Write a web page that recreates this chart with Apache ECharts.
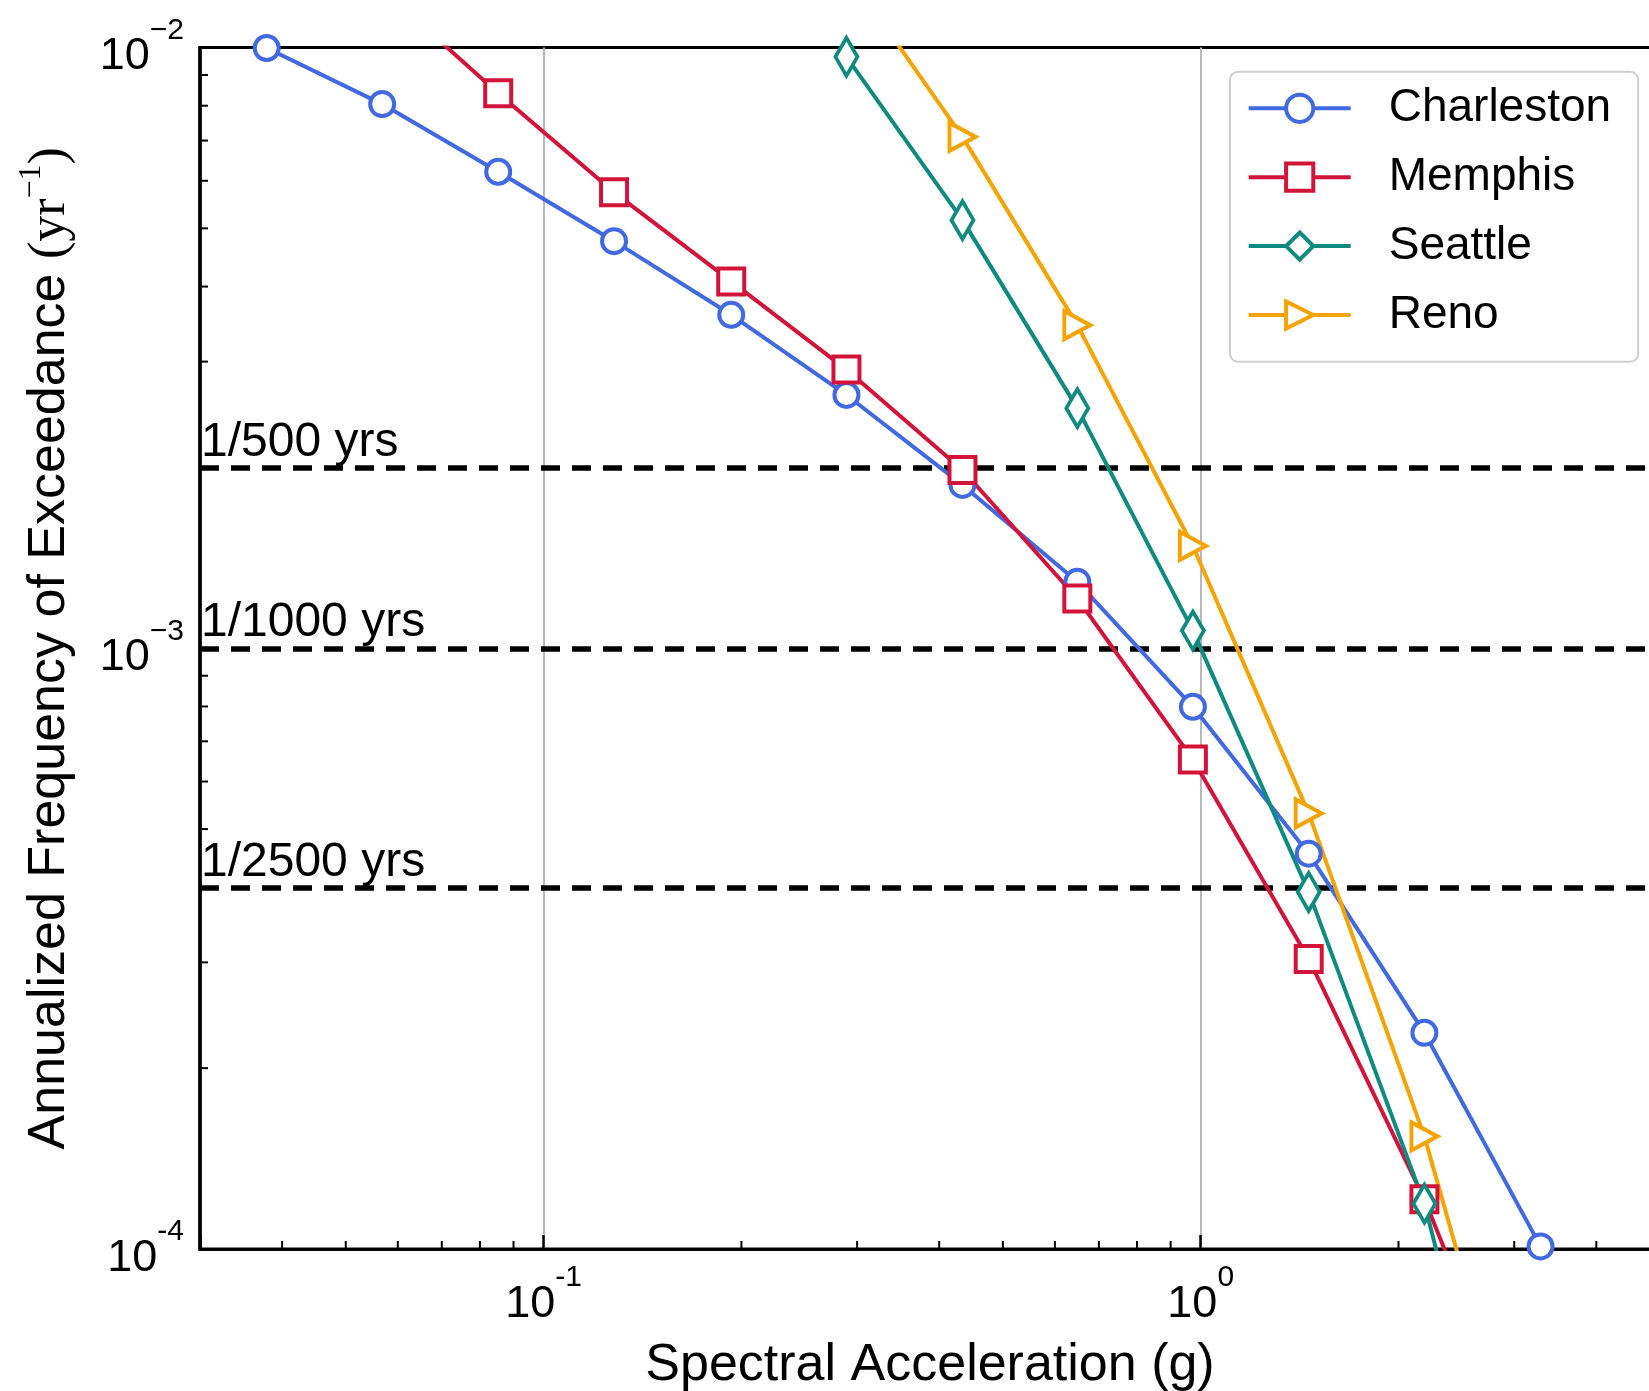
<!DOCTYPE html>
<html>
<head>
<meta charset="utf-8">
<script src="https://cdn.jsdelivr.net/npm/echarts@6/dist/echarts.min.js"></script>
<style>
  html, body { margin: 0; padding: 0; background: #fff; }
  #chart { width: 1649px; height: 1391px; }
</style>
</head>
<body>
<div id="chart"></div>
<script>
// Spectral acceleration levels (g) of the hazard curves
const spectralAccel = [0.0379, 0.0568, 0.0853, 0.128, 0.193, 0.289, 0.434, 0.649, 0.973, 1.46, 2.19, 3.29];

// Annualized frequency of exceedance (1/yr) for each site
const charleston = [0.00998, 0.00805, 0.00621, 0.00476, 0.00359, 0.00264, 0.00187, 0.00129, 0.000799, 0.000455, 0.000229, 0.000101];
const memphis    = [null, 0.0125, 0.00839, 0.00574, 0.00408, 0.00291, 0.00198, 0.00121, 0.000653, 0.000304, 0.000121, 0.000040];
const seattle    = [null, null, null, null, null, 0.00965, 0.00516, 0.00251, 0.00107, 0.000393, 0.000119, 0.000021];
const reno       = [null, null, null, null, null, 0.0134, 0.0071, 0.00345, 0.00148, 0.000531, 0.000154, 0.000032];

const cityNames  = ['Charleston', 'Memphis', 'Seattle', 'Reno'];
const cityValues = [charleston, memphis, seattle, reno];

// Reference return periods (years)
const returnPeriods = [500, 1000, 2500];
const returnLabels  = ['1/500 yrs', '1/1000 yrs', '1/2500 yrs'];

// Axis ranges and tick labels
const xRange = [0.03, 5];
const yRange = [1e-4, 1e-2];
const xTickValues = [0.1, 1];
const xTickSup    = ['-1', '0'];
const yTickValues = [1e-4, 1e-3, 1e-2];
const yTickSup    = ['-4', '\u22123', '\u22122'];
const xMinorTicks = [0.04, 0.05, 0.06, 0.07, 0.08, 0.09, 0.2, 0.3, 0.4, 0.5, 0.6, 0.7, 0.8, 0.9, 2, 3, 4];
const yMinorTicks = [2e-4, 3e-4, 4e-4, 5e-4, 6e-4, 7e-4, 8e-4, 9e-4, 2e-3, 3e-3, 4e-3, 5e-3, 6e-3, 7e-3, 8e-3, 9e-3];

const palette = ['#4169E1', '#D2143A', '#0F8A80', '#F5A300'];
const markers = [
  { symbol: 'circle', symbolSize: 24, symbolRotate: 0 },
  { symbol: 'rect', symbolSize: 26, symbolRotate: 0 },
  { symbol: 'diamond', symbolSize: [22, 38], symbolRotate: 0 },
  { symbol: 'triangle', symbolSize: [28, 26], symbolRotate: -90 }
];

const SANS = 'Liberation Sans';
const SERIF = 'Liberation Serif';

function matchIndex(list, v) {
  for (let i = 0; i < list.length; i++) {
    if (Math.abs(v / list[i] - 1) < 1e-6) return i;
  }
  return -1;
}

// "10" with a raised exponent; the zero-width spacer sets the line height
const tickRich = {
  b: { fontSize: 45, lineHeight: 50, verticalAlign: 'bottom', fontFamily: SANS, color: '#000' },
  s: { fontSize: 30, lineHeight: 30, verticalAlign: 'top', fontFamily: SANS, color: '#000' },
  h: { fontSize: 10, lineHeight: 64, verticalAlign: 'middle', fontFamily: SANS, color: '#000' }
};
function powerLabel(sup) {
  return '{h|\u200b}{b|10}{s|' + sup + '}';
}

const lineSeries = cityNames.map((name, k) => ({
  name: name,
  type: 'line',
  data: spectralAccel.map((x, i) => [x, cityValues[k][i]]),
  connectNulls: false,
  clip: true,
  symbol: markers[k].symbol,
  symbolSize: markers[k].symbolSize,
  symbolRotate: markers[k].symbolRotate,
  showAllSymbol: true,
  lineStyle: { color: palette[k], width: 4 },
  itemStyle: { color: '#fff', borderColor: palette[k], borderWidth: 4 },
  emphasis: { disabled: true },
  z: 3
}));

// Horizontal reference lines for the return periods
lineSeries[0].markLine = {
  silent: true,
  z: 1,
  precision: 8,
  symbol: ['none', 'none'],
  lineStyle: { color: '#000', width: 5.5, type: [19, 12] },
  label: {
    show: true,
    position: 'insideStartTop',
    formatter: '{b}',
    fontSize: 48,
    fontFamily: SANS,
    color: '#000',
    distance: 1
  },
  emphasis: { disabled: true },
  data: returnPeriods.map((t, i) => ({ yAxis: 1 / t, name: returnLabels[i] }))
};

// Minor ticks drawn inward from the axes
const minorTickSeries = [
  {
    type: 'custom', silent: true, z: 4, clip: false,
    data: xMinorTicks.map(v => [v, yRange[0]]),
    renderItem: (params, api) => {
      const p = api.coord([api.value(0), api.value(1)]);
      return { type: 'line', shape: { x1: p[0], y1: p[1], x2: p[0], y2: p[1] - 8 },
               style: { stroke: '#000', lineWidth: 2 } };
    }
  },
  {
    type: 'custom', silent: true, z: 4, clip: false,
    data: yMinorTicks.map(v => [xRange[0], v]),
    renderItem: (params, api) => {
      const p = api.coord([api.value(0), api.value(1)]);
      return { type: 'line', shape: { x1: p[0], y1: p[1], x2: p[0] + 8, y2: p[1] },
               style: { stroke: '#000', lineWidth: 2 } };
    }
  }
];

const chart = echarts.init(document.getElementById('chart'), null, { renderer: 'canvas' });
chart.setOption({
  animation: false,
  backgroundColor: '#fff',
  grid: {
    left: 200, top: 47.5, width: 1460, height: 1201.5,
    outerBoundsMode: 'none',
    containLabel: false,
    show: true, borderColor: '#000', borderWidth: 3, backgroundColor: 'transparent'
  },
  legend: {
    data: cityNames,
    orient: 'vertical',
    left: 1230, top: 71.7,
    padding: [12.6, 27, 22.7, 16.7],
    itemWidth: 102, itemHeight: 34, itemGap: 20.9,
    backgroundColor: '#fff',
    borderColor: '#cfcfcf', borderWidth: 2, borderRadius: 8,
    selectedMode: false,
    lineStyle: { width: 4 },
    itemStyle: { borderWidth: 4 },
    textStyle: { fontSize: 46, fontFamily: SANS, color: '#000', lineHeight: 48, padding: [0, 0, 0, 33] }
  },
  xAxis: {
    type: 'log', logBase: 10,
    min: xRange[0], max: xRange[1],
    name: 'Spectral Acceleration (g)',
    nameLocation: 'middle', nameGap: 91,
    nameTextStyle: { fontSize: 52, fontFamily: SANS, color: '#000' },
    axisLine: { show: true, lineStyle: { color: '#000', width: 3 } },
    axisTick: { show: true, inside: true, length: 14, lineStyle: { color: '#000', width: 2.5 } },
    axisLabel: {
      margin: 14,
      formatter: v => {
        const i = matchIndex(xTickValues, v);
        return i < 0 ? '' : powerLabel(xTickSup[i]);
      },
      rich: tickRich
    },
    splitLine: { show: true, showMinLine: false, showMaxLine: false, lineStyle: { color: '#b8b8b8', width: 2 } },
    minorTick: { show: false },
    minorSplitLine: { show: false }
  },
  yAxis: {
    type: 'log', logBase: 10,
    min: yRange[0], max: yRange[1],
    name: '{t|Annualized Frequency of Exceedance }{m|(yr}{p|\u22121}{m|)}',
    nameLocation: 'middle', nameGap: 124,
    nameTextStyle: {
      rich: {
        t: { fontSize: 52, fontFamily: SANS, color: '#000', lineHeight: 60, verticalAlign: 'bottom' },
        m: { fontSize: 52, fontFamily: SERIF, color: '#000', lineHeight: 60, verticalAlign: 'bottom' },
        p: { fontSize: 32, fontFamily: SERIF, color: '#000', lineHeight: 32, verticalAlign: 'top' }
      }
    },
    axisLine: { show: true, lineStyle: { color: '#000', width: 3.5 } },
    axisTick: { show: true, inside: true, length: 14, lineStyle: { color: '#000', width: 2.5 } },
    axisLabel: {
      margin: 16,
      formatter: v => {
        const i = matchIndex(yTickValues, v);
        return i < 0 ? '' : powerLabel(yTickSup[i]);
      },
      rich: tickRich
    },
    splitLine: { show: false },
    minorTick: { show: false }
  },
  series: lineSeries.concat(minorTickSeries)
});
</script>
</body>
</html>
